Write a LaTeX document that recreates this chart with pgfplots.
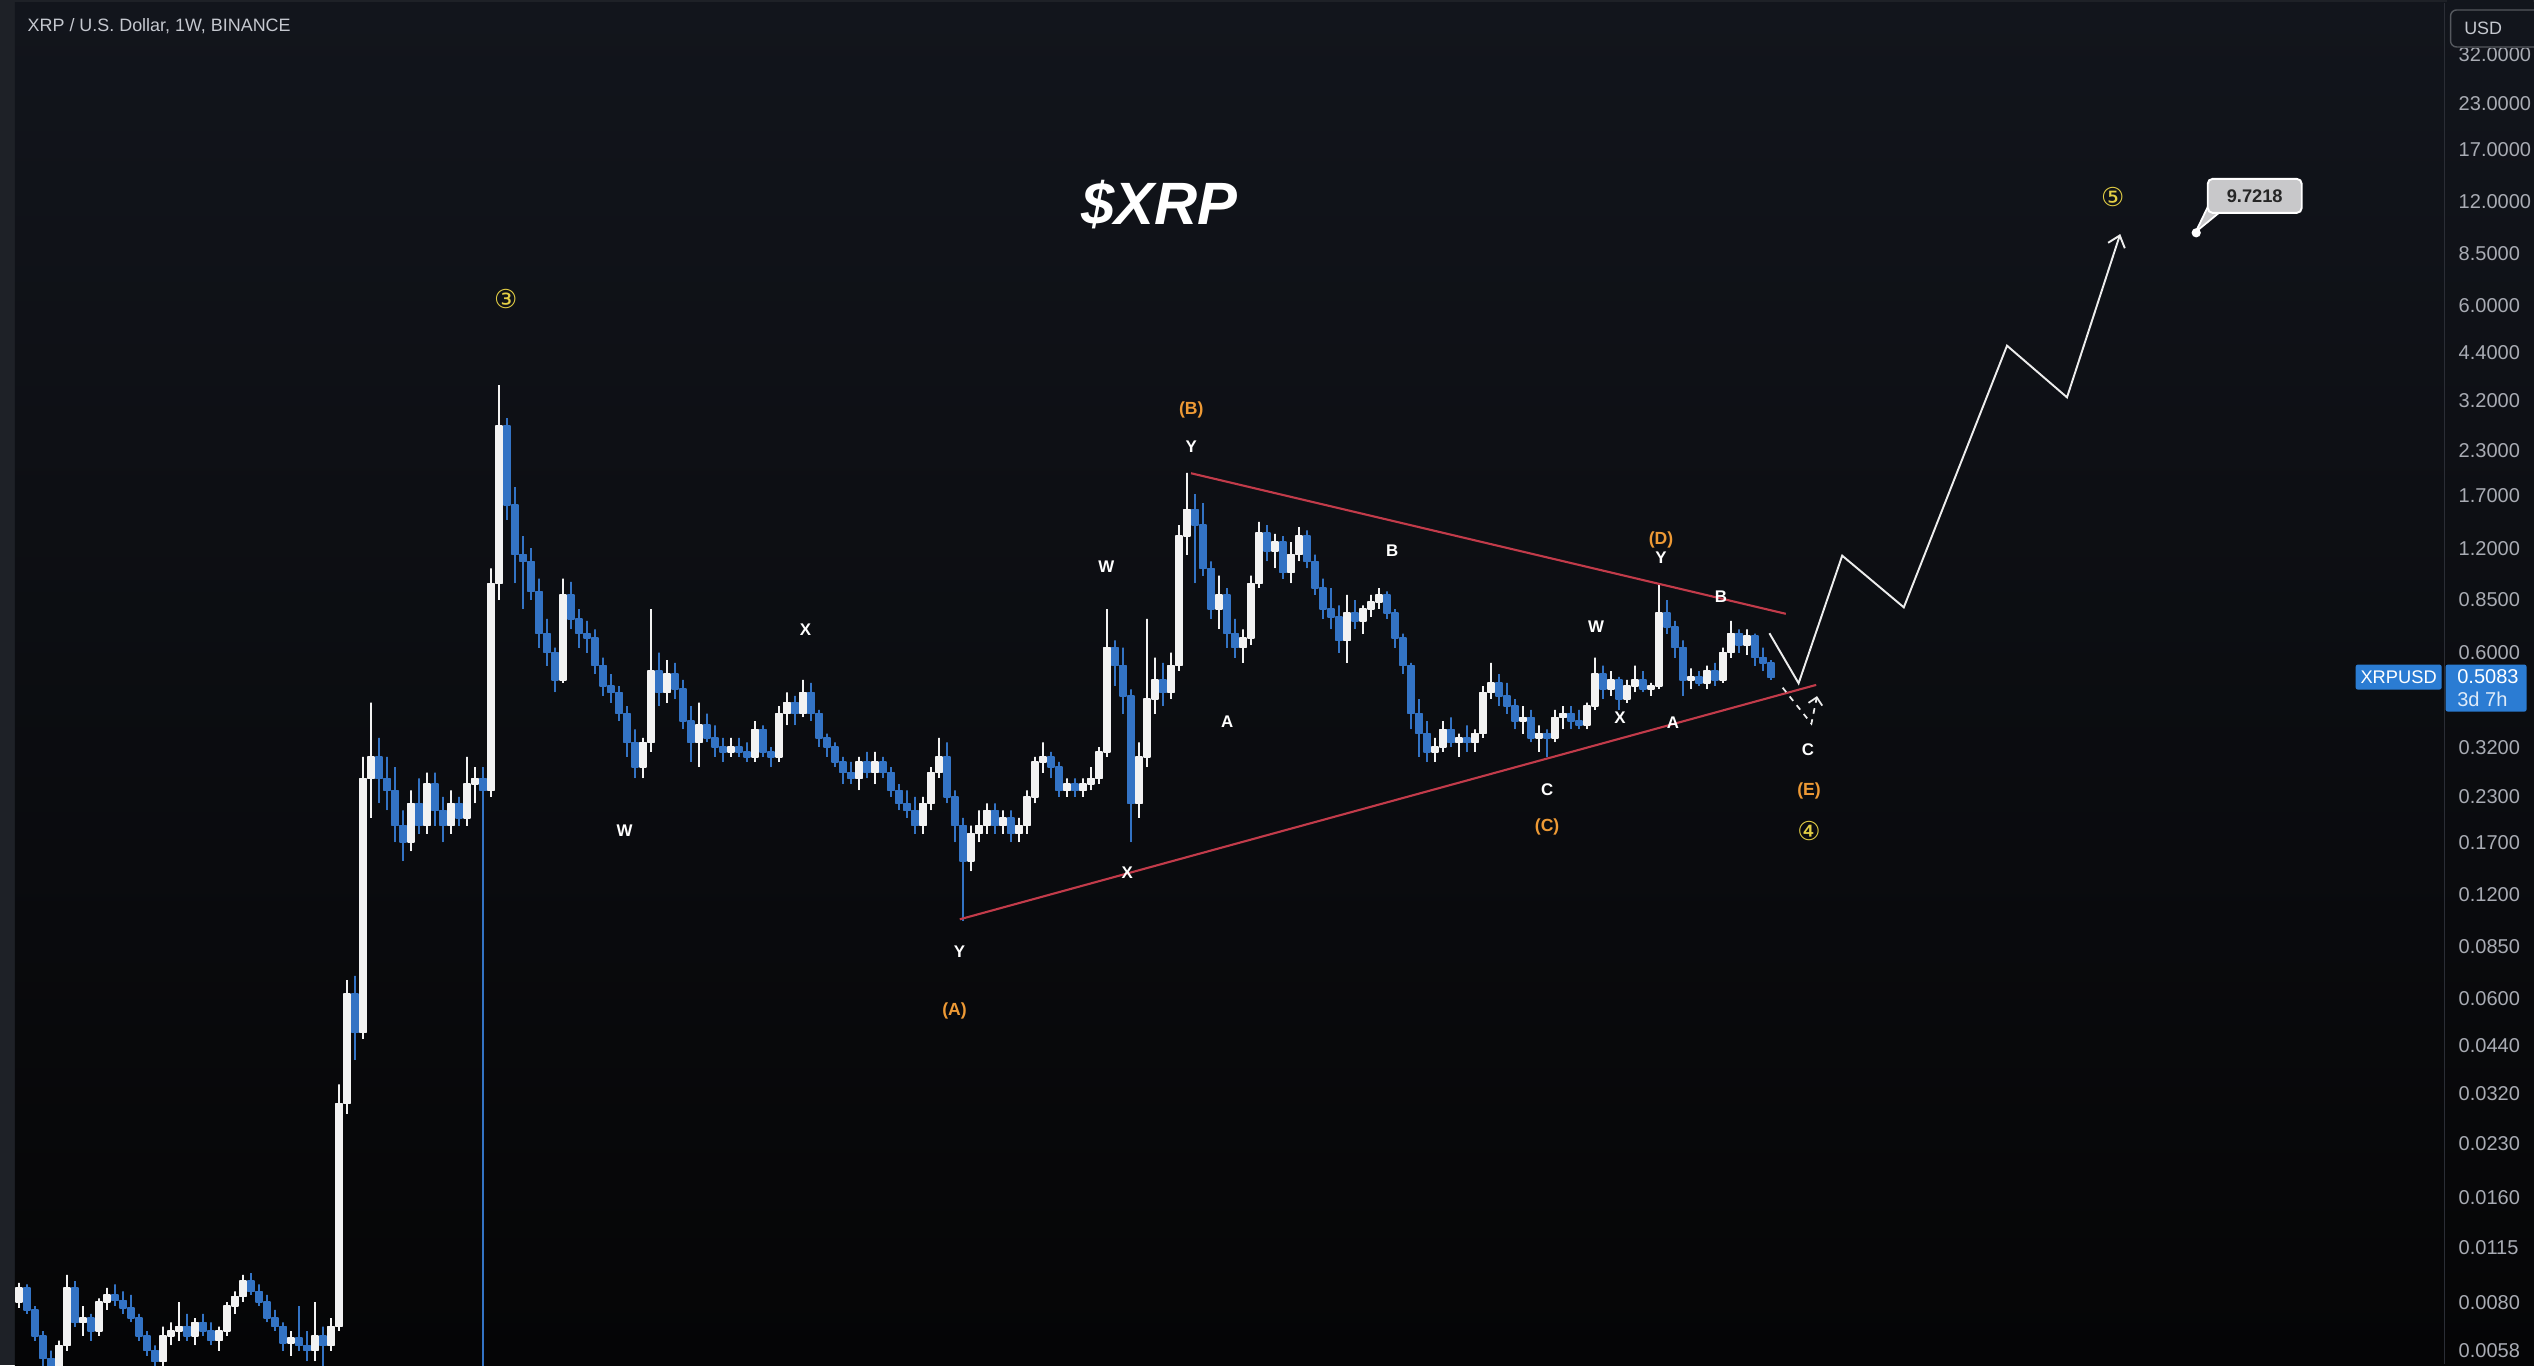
\documentclass[border=0pt]{standalone}
\usepackage{pgfplots}
\pgfplotsset{compat=1.18}
\usepackage{pgfplotstable}
\usetikzlibrary{arrows.meta}
\usepackage{fontspec}
\setmainfont{Liberation Sans}
\newfontfamily\djv{DejaVu Sans}
\definecolor{frmc}{HTML}{1E2127}
\definecolor{bgtop}{HTML}{12151C}
\definecolor{bgbot}{HTML}{050506}
\definecolor{upc}{HTML}{F2F2F2}
\definecolor{dnc}{HTML}{3373C4}
\definecolor{tlred}{HTML}{C23B4A}
\definecolor{ora}{HTML}{EE9A35}
\definecolor{yel}{HTML}{E4CF45}
\definecolor{tickc}{HTML}{A9ACB4}
\definecolor{titlec}{HTML}{C5C8CF}
\definecolor{tvblue}{HTML}{2B7CD3}
\definecolor{pathc}{HTML}{EDEDED}
\definecolor{sepc}{HTML}{2B2E36}
\definecolor{calloutc}{HTML}{C8C8CA}

\pgfplotstableread{
x o h l c
1 0.0080 0.0091 0.0077 0.0088
3 0.0088 0.0090 0.0074 0.0076
5 0.0076 0.0078 0.0062 0.0064
7 0.0064 0.0066 0.0052 0.0055
9 0.0055 0.0058 0.0046 0.0050
11 0.0050 0.0062 0.0048 0.0060
13 0.0060 0.0096 0.0058 0.0088
15 0.0088 0.0092 0.0068 0.0070
17 0.0070 0.0078 0.0064 0.0072
19 0.0072 0.0074 0.0062 0.0066
21 0.0066 0.0082 0.0064 0.0080
23 0.0080 0.0088 0.0076 0.0084
25 0.0084 0.0090 0.0078 0.0081
27 0.0081 0.0086 0.0074 0.0077
29 0.0077 0.0084 0.0070 0.0072
31 0.0072 0.0074 0.0062 0.0064
33 0.0064 0.0066 0.0056 0.0058
35 0.0058 0.0060 0.0050 0.0054
37 0.0054 0.0068 0.0052 0.0064
39 0.0064 0.0070 0.0060 0.0066
41 0.0066 0.0080 0.0062 0.0068
43 0.0068 0.0074 0.0062 0.0064
45 0.0064 0.0072 0.0060 0.0070
47 0.0070 0.0074 0.0064 0.0066
49 0.0066 0.0070 0.0060 0.0062
51 0.0062 0.0068 0.0058 0.0066
53 0.0066 0.0080 0.0064 0.0078
55 0.0078 0.0086 0.0074 0.0083
57 0.0083 0.0096 0.0080 0.0092
59 0.0092 0.0097 0.0084 0.0086
61 0.0086 0.0090 0.0078 0.0080
63 0.0080 0.0084 0.0070 0.0072
65 0.0072 0.0076 0.0066 0.0068
67 0.0068 0.0070 0.0058 0.0061
69 0.0061 0.0066 0.0056 0.0063
71 0.0063 0.0078 0.0058 0.0060
73 0.0060 0.0066 0.0054 0.0058
75 0.0058 0.0080 0.0054 0.0064
77 0.0064 0.0068 0.0052 0.0060
79 0.0060 0.0072 0.0058 0.0068
81 0.0068 0.0340 0.0066 0.0300
83 0.0300 0.0680 0.0280 0.0620
85 0.0620 0.0700 0.0400 0.0480
87 0.0480 0.3000 0.0460 0.2600
89 0.2600 0.4300 0.2000 0.3000
91 0.3000 0.3400 0.2200 0.2600
93 0.2600 0.3000 0.2100 0.2400
95 0.2400 0.2800 0.1700 0.1900
97 0.1900 0.2100 0.1500 0.1700
99 0.1700 0.2400 0.1600 0.2200
101 0.2200 0.2600 0.1800 0.1900
103 0.1900 0.2700 0.1800 0.2500
105 0.2500 0.2700 0.1900 0.2100
107 0.2100 0.2300 0.1700 0.1900
109 0.1900 0.2400 0.1800 0.2200
111 0.2200 0.2300 0.1900 0.2000
113 0.2000 0.3000 0.1900 0.2500
115 0.2500 0.2800 0.2200 0.2600
117 0.2600 0.2800 0.0040 0.2400
119 0.2400 1.0500 0.2300 0.9500
121 0.9500 3.5500 0.8500 2.7000
123 2.7000 2.8500 1.4500 1.6000
125 1.6000 1.8000 0.9500 1.1500
127 1.1500 1.3000 0.8000 1.1000
129 1.1000 1.2000 0.8500 0.9000
131 0.9000 0.9800 0.6200 0.6800
133 0.6800 0.7500 0.5500 0.6000
135 0.6000 0.6200 0.4600 0.5000
137 0.5000 0.9800 0.4900 0.8800
139 0.8800 0.9600 0.7000 0.7500
141 0.7500 0.8000 0.6200 0.6800
143 0.6800 0.7400 0.6000 0.6600
145 0.6600 0.7000 0.5200 0.5500
147 0.5500 0.5800 0.4500 0.4800
149 0.4800 0.5200 0.4300 0.4600
151 0.4600 0.4800 0.3800 0.4000
153 0.4000 0.4200 0.3000 0.3300
155 0.3300 0.3600 0.2600 0.2800
157 0.2800 0.3400 0.2600 0.3300
159 0.3300 0.8000 0.3100 0.5300
161 0.5300 0.6000 0.4200 0.4600
163 0.4600 0.5700 0.4300 0.5200
165 0.5200 0.5600 0.4400 0.4700
167 0.4700 0.5000 0.3600 0.3800
169 0.3800 0.4200 0.2900 0.3300
171 0.3300 0.4300 0.2800 0.3700
173 0.3700 0.4000 0.3300 0.3400
175 0.3400 0.3700 0.3000 0.3200
177 0.3200 0.3400 0.2900 0.3100
179 0.3100 0.3400 0.3000 0.3200
181 0.3200 0.3400 0.3000 0.3100
183 0.3100 0.3300 0.2900 0.3000
185 0.3000 0.3800 0.2900 0.3600
187 0.3600 0.3700 0.3000 0.3100
189 0.3100 0.3200 0.2800 0.3000
191 0.3000 0.4200 0.2900 0.4000
193 0.4000 0.4600 0.3700 0.4300
195 0.4300 0.4500 0.3700 0.4000
197 0.4000 0.5000 0.3900 0.4600
199 0.4600 0.4900 0.3800 0.4000
201 0.4000 0.4100 0.3200 0.3400
203 0.3400 0.3500 0.3000 0.3200
205 0.3200 0.3300 0.2800 0.2900
207 0.2900 0.3000 0.2500 0.2700
209 0.2700 0.2900 0.2500 0.2600
211 0.2600 0.3000 0.2400 0.2900
213 0.2900 0.3100 0.2600 0.2700
215 0.2700 0.3100 0.2500 0.2900
217 0.2900 0.3000 0.2600 0.2700
219 0.2700 0.2800 0.2300 0.2400
221 0.2400 0.2500 0.2100 0.2200
223 0.2200 0.2400 0.2000 0.2100
225 0.2100 0.2300 0.1800 0.1900
227 0.1900 0.2300 0.1800 0.2200
229 0.2200 0.2800 0.2100 0.2700
231 0.2700 0.3400 0.2600 0.3000
233 0.3000 0.3300 0.2200 0.2300
235 0.2300 0.2400 0.1700 0.1900
237 0.1900 0.2000 0.1010 0.1500
239 0.1500 0.1900 0.1400 0.1800
241 0.1800 0.2100 0.1700 0.1900
243 0.1900 0.2200 0.1800 0.2100
245 0.2100 0.2200 0.1800 0.1900
247 0.1900 0.2100 0.1800 0.2000
249 0.2000 0.2100 0.1700 0.1800
251 0.1800 0.2000 0.1700 0.1900
253 0.1900 0.2400 0.1800 0.2300
255 0.2300 0.3000 0.2200 0.2900
257 0.2900 0.3300 0.2700 0.3000
259 0.3000 0.3100 0.2600 0.2800
261 0.2800 0.2900 0.2300 0.2400
263 0.2400 0.2600 0.2300 0.2500
265 0.2500 0.2600 0.2300 0.2400
267 0.2400 0.2600 0.2300 0.2500
269 0.2500 0.2800 0.2400 0.2600
271 0.2600 0.3200 0.2500 0.3100
273 0.3100 0.8000 0.3000 0.6200
275 0.6200 0.6500 0.4800 0.5500
277 0.5500 0.6200 0.4000 0.4500
279 0.4500 0.4700 0.1700 0.2200
281 0.2200 0.3300 0.2000 0.3000
283 0.3000 0.7500 0.2800 0.4400
285 0.4400 0.5800 0.4000 0.5000
287 0.5000 0.5600 0.4200 0.4600
289 0.4600 0.6000 0.4400 0.5500
291 0.5500 1.4000 0.5300 1.3000
293 1.3000 1.9800 1.1500 1.5500
295 1.5500 1.7200 0.9500 1.4000
297 1.4000 1.6200 1.0000 1.0500
299 1.0500 1.1000 0.7500 0.8000
301 0.8000 1.0000 0.7000 0.8800
303 0.8800 0.9200 0.6200 0.6800
305 0.6800 0.7500 0.5800 0.6200
307 0.6200 0.7000 0.5600 0.6600
309 0.6600 1.0000 0.6300 0.9500
311 0.9500 1.4300 0.9200 1.3300
313 1.3300 1.4000 1.1000 1.1800
315 1.1800 1.3200 1.0500 1.2500
317 1.2500 1.3000 0.9800 1.0200
319 1.0200 1.2500 0.9500 1.1500
321 1.1500 1.3800 1.1000 1.3000
323 1.3000 1.3500 1.0500 1.1000
325 1.1000 1.1500 0.8800 0.9200
327 0.9200 0.9800 0.7500 0.8000
329 0.8000 0.9200 0.7000 0.7600
331 0.7600 0.8200 0.6000 0.6500
333 0.6500 0.8800 0.5600 0.7800
335 0.7800 0.8500 0.7000 0.7400
337 0.7400 0.8200 0.6800 0.8000
339 0.8000 0.8800 0.7600 0.8400
341 0.8400 0.9200 0.8000 0.8800
343 0.8800 0.9000 0.7500 0.7800
345 0.7800 0.8000 0.6200 0.6600
347 0.6600 0.6800 0.5200 0.5500
349 0.5500 0.5600 0.3600 0.4000
351 0.4000 0.4400 0.3000 0.3500
353 0.3500 0.3800 0.2900 0.3100
355 0.3100 0.3400 0.2900 0.3200
357 0.3200 0.3800 0.3100 0.3600
359 0.3600 0.3900 0.3200 0.3300
361 0.3300 0.3500 0.3000 0.3400
363 0.3400 0.3700 0.3100 0.3300
365 0.3300 0.3600 0.3100 0.3500
367 0.3500 0.4800 0.3400 0.4600
369 0.4600 0.5600 0.4400 0.4900
371 0.4900 0.5200 0.4200 0.4500
373 0.4500 0.4900 0.4000 0.4200
375 0.4200 0.4400 0.3600 0.3800
377 0.3800 0.4200 0.3500 0.3900
379 0.3900 0.4100 0.3300 0.3400
381 0.3400 0.3700 0.3100 0.3500
383 0.3500 0.3600 0.3000 0.3400
385 0.3400 0.4100 0.3300 0.3900
387 0.3900 0.4200 0.3600 0.4000
389 0.4000 0.4200 0.3600 0.3800
391 0.3800 0.4100 0.3600 0.3700
393 0.3700 0.4300 0.3600 0.4200
395 0.4200 0.5800 0.4100 0.5200
397 0.5200 0.5500 0.4400 0.4700
399 0.4700 0.5300 0.4500 0.5000
401 0.5000 0.5100 0.4100 0.4400
403 0.4400 0.5000 0.4300 0.4800
405 0.4800 0.5500 0.4600 0.5000
407 0.5000 0.5300 0.4600 0.4700
409 0.4700 0.4900 0.4500 0.4800
411 0.4800 0.9400 0.4700 0.7800
413 0.7800 0.8500 0.6800 0.7100
415 0.7100 0.7400 0.5800 0.6200
417 0.6200 0.6500 0.4500 0.5000
419 0.5000 0.5400 0.4700 0.5100
421 0.5100 0.5300 0.4800 0.4900
423 0.4900 0.5500 0.4700 0.5300
425 0.5300 0.5600 0.4800 0.5000
427 0.5000 0.6200 0.4900 0.6000
429 0.6000 0.7400 0.5800 0.6800
431 0.6800 0.7000 0.6000 0.6300
433 0.6300 0.7000 0.5900 0.6700
435 0.6700 0.6800 0.5500 0.5800
437 0.5800 0.6200 0.5300 0.5600
439 0.5600 0.5700 0.5000 0.5083
}\candles

\begin{document}
\begin{tikzpicture}
\path[use as bounding box] (0,0) rectangle (25.34cm,13.65cm);
\fill[frmc] (0,0) rectangle (25.34cm,13.65cm);
\shade[top color=bgtop, bottom color=bgbot] (0.15cm,0) rectangle (25.34cm,13.62cm);
\begin{axis}[
  at={(0.15cm,0cm)}, anchor=south west,
  width=24.31cm, height=13.62cm, scale only axis,
  xmin=0, xmax=607.75,
  ymode=log, ymin=0.00527, ymax=44.95,
  axis line style={draw=none},
  xtick=\empty,
  ytick={0.0058,0.008,0.0115,0.016,0.023,0.032,0.044,0.06,0.085,0.12,0.17,0.23,0.32,0.6,0.85,1.2,1.7,2.3,3.2,4.4,6,8.5,12,17,23,32},
  yticklabels={0.0058,0.0080,0.0115,0.0160,0.0230,0.0320,0.0440,0.0600,0.0850,0.1200,0.1700,0.2300,0.3200,0.6000,0.8500,1.2000,1.7000,2.3000,3.2000,4.4000,6.0000,8.5000,12.0000,17.0000,23.0000,32.0000},
  yticklabel pos=right,
  tick style={draw=none},
  major tick length=0pt,
  minor tick num=0,
  yticklabel style={anchor=west, inner sep=0pt, xshift=0.12cm, text=tickc, font=\fontsize{5.7}{6.8}\selectfont},
  clip=true,
]
\pgfplotstablegetrowsof{\candles}
\pgfmathtruncatemacro\nrows{\pgfplotsretval-1}
\pgfplotsforeachungrouped \i in {0,...,\nrows}{%
  \pgfplotstablegetelem{\i}{x}\of\candles \let\cx\pgfplotsretval
  \pgfplotstablegetelem{\i}{o}\of\candles \let\co\pgfplotsretval
  \pgfplotstablegetelem{\i}{h}\of\candles \let\ch\pgfplotsretval
  \pgfplotstablegetelem{\i}{l}\of\candles \let\cl\pgfplotsretval
  \pgfplotstablegetelem{\i}{c}\of\candles \let\cc\pgfplotsretval
  \pgfmathsetmacro\xa{\cx-0.7}%
  \pgfmathsetmacro\xb{\cx+0.7}%
  \pgfmathtruncatemacro\up{(\cc>=\co) ? 1 : 0}%
  \ifnum\up=1 \def\ccol{upc}\let\blo\co\let\bhi\cc \else \def\ccol{dnc}\let\blo\cc\let\bhi\co \fi
  \edef\temp{\noexpand\addplot[draw=\ccol,fill=\ccol,line width=0.45pt,line join=bevel,forget plot] coordinates {(\cx,\cl) (\cx,\blo) (\xb,\blo) (\xb,\bhi) (\cx,\bhi) (\cx,\ch) (\cx,\bhi) (\xa,\bhi) (\xa,\blo) (\cx,\blo) (\cx,\cl)};}%
  \temp
}
% triangle trend lines
\addplot[tlred, line width=0.6pt] coordinates {(294,1.975) (442.7,0.776)};
\addplot[tlred, line width=0.6pt] coordinates {(236.2,0.1019) (450.3,0.4838)};
% projected path
\addplot[pathc, line width=0.55pt, -{Straight Barb[length=3pt,width=5pt]}] coordinates {(438.6,0.682) (445.9,0.489) (456.8,1.142) (472.2,0.810) (498.0,4.61) (513.0,3.27) (526.3,9.68)};
\addplot[pathc, line width=0.5pt, dash pattern=on 1.6pt off 1.6pt, -{Straight Barb[length=2pt,width=4pt]}] coordinates {(441.9,0.475) (449.1,0.374) (450.5,0.449)};
\addplot[only marks, mark=*, mark size=1.1pt, white] coordinates {(545.3,9.76)};
\end{axis}
\begin{scope}[x=0.01cm, y=-0.01cm, shift={(0cm,13.65cm)}]
  % price scale separator
  \draw[sepc, line width=0.45pt] (2446,3) -- (2446,1365);
  % title
  \node[anchor=west, inner sep=0pt, text=titlec, font=\fontsize{5.1}{6}\selectfont] at (27,26) {XRP / U.S. Dollar, 1W, BINANCE};
  \node[anchor=base, text=white, font=\bfseries\itshape\fontsize{17}{20}\selectfont] at (1160,225) {\$XRP};
  % USD box
  \fill[bgtop] (2448,0) rectangle (2534,48);
  \draw[draw=sepc!80!white, line width=0.4pt, rounded corners=1.7pt, fill=bgtop] (2452,10) rectangle (2550,47);
  \node[anchor=west, inner sep=0pt, text=titlec, font=\fontsize{5.1}{6}\selectfont] at (2465,28.5) {USD};
  % current price labels
  \fill[tvblue, rounded corners=0.6pt] (2357,665) rectangle (2443,690);
  \node[text=white, font=\fontsize{5.2}{6}\selectfont] at (2400,677.5) {XRPUSD};
  \fill[tvblue, rounded corners=0.6pt] (2447,665) rectangle (2528,712);
  \node[anchor=west, inner sep=0pt, text=white, font=\fontsize{5.7}{6.8}\selectfont] at (2458,677.5) {0.5083};
  \node[anchor=west, inner sep=0pt, text=white!85!tvblue, font=\fontsize{5.7}{6.8}\selectfont] at (2458,700) {3d 7h};
  % callout
  \filldraw[fill=calloutc, draw=white, line width=0.5pt, line join=round] (2210,205) -- (2230,205) -- (2197,232) -- cycle;
  \node[fill=calloutc, draw=white, line width=0.55pt, rounded corners=1.4pt, minimum width=0.94cm, minimum height=0.34cm, inner sep=0pt, text=black!85, font=\bfseries\fontsize{5.2}{6}\selectfont] at (2256,196) {9.7218};
  % circled wave numbers
  \node[text=yel, font=\djv\fontsize{7.4}{8}\selectfont] at (506,299) {③};
  \node[text=yel, font=\djv\fontsize{7.4}{8}\selectfont] at (2114,197) {⑤};
  \node[text=yel, font=\djv\fontsize{7.4}{8}\selectfont] at (1810,832) {④};
  % orange labels
  \tikzset{ol/.style={text=ora, font=\bfseries\fontsize{5.0}{6}\selectfont}}
  \node[ol] at (1192,410) {(B)};
  \node[ol] at (955,1012) {(A)};
  \node[ol] at (1548,827) {(C)};
  \node[ol] at (1662,540) {(D)};
  \node[ol] at (1810,791) {(E)};
  % white labels
  \tikzset{wl/.style={text=white, font=\bfseries\fontsize{4.8}{5.5}\selectfont}}
  \node[wl] at (1192,447) {Y};
  \node[wl] at (1107,567) {W};
  \node[wl] at (806,630) {X};
  \node[wl] at (625,831) {W};
  \node[wl] at (960,952) {Y};
  \node[wl] at (1128,873) {X};
  \node[wl] at (1228,722) {A};
  \node[wl] at (1393,551) {B};
  \node[wl] at (1548,790) {C};
  \node[wl] at (1597,627) {W};
  \node[wl] at (1621,718) {X};
  \node[wl] at (1662,558) {Y};
  \node[wl] at (1674,723) {A};
  \node[wl] at (1722,597) {B};
  \node[wl] at (1809,750) {C};
\end{scope}
\end{tikzpicture}
\end{document}
